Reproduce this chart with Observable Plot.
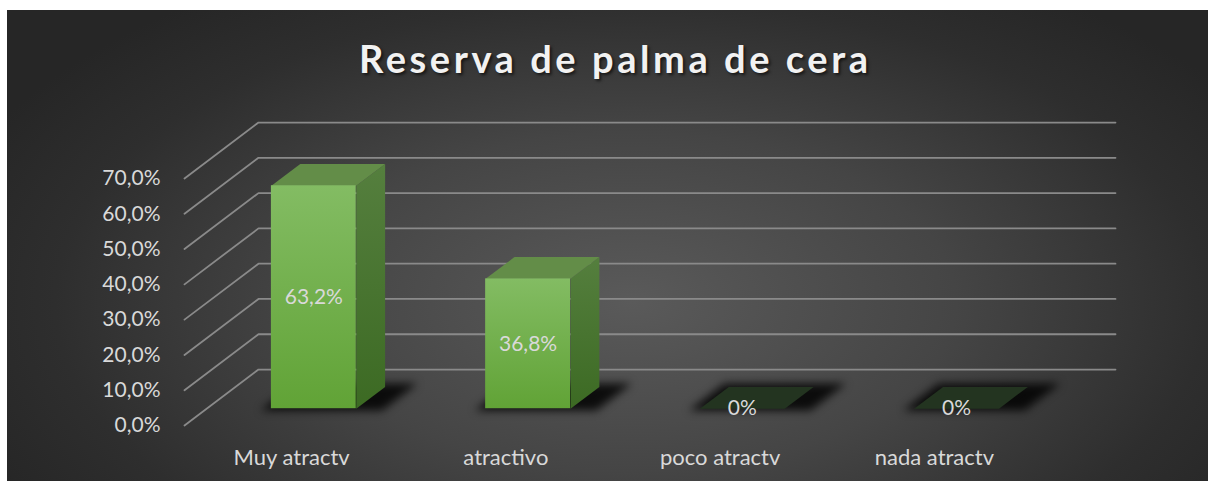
<!DOCTYPE html>
<html>
<head>
<meta charset="utf-8">
<script src="https://cdn.jsdelivr.net/npm/d3@7"></script>
<script src="https://cdn.jsdelivr.net/npm/@observablehq/plot@0.6"></script>
<style>
  html, body { margin: 0; padding: 0; background: #ffffff; width: 1209px; height: 482px; overflow: hidden; }
  #bg { position: absolute; left: 7px; top: 10px; width: 1201px; height: 471px;
        background: radial-gradient(ellipse 60% 80% at 52% 62%, #5a5a5a 0%, #454545 45%, #2e2e2e 80%, #262626 100%); }
  #title { position: absolute; left: 0; width: 1227px; top: 39px; text-align: center;
           font-family: Lato, "Open Sans", sans-serif; font-weight: bold; font-size: 38px; line-height: 1;
           color: #f2f2f2; text-shadow: 2px 2px 3px rgba(0,0,0,0.6); white-space: nowrap; }
  #title span { display: inline-block; }
  #chart { position: absolute; left: 0; top: 0; }
</style>
</head>
<body>
<div id="bg"></div>
<div id="chart"></div>
<div id="title"><span id="titleText">Reserva de palma de cera</span></div>
<script>
// ---- data ----
const categories = ["Muy atractv", "atractivo", "poco atractv", "nada atractv"];
const values = [63.2, 36.8, 0, 0];
const valueLabels = ["63,2%", "36,8%", "0%", "0%"];
const yTicks = [0, 10, 20, 30, 40, 50, 60, 70];

// ---- simple oblique 3D projection into data space ----
const KX = 0.3453, KY = 15.86;      // depth (z = 0 front .. 1 back wall) in x / y data units
const HW = 0.198;                   // half bar width (category units)
const ZF = 0.30, ZB = 0.69;         // bar front / back depth
const P = (x, v, z, id) => ({x: x + KX * z, y: v + KY * z, id});

const grid = yTicks.flatMap(t => [P(-0.5, t, 0, t), P(-0.5, t, 1, t), P(3.5, t, 1, t)]);

const bars = categories.map((c, i) => ({c, i, v: values[i], label: valueLabels[i]}));
const nonZero = bars.filter(d => d.v > 0);
const zero = bars.filter(d => d.v === 0);

const sides = nonZero.flatMap(d => [P(d.i + HW, 0, ZF, d.i), P(d.i + HW, d.v, ZF, d.i), P(d.i + HW, d.v, ZB, d.i), P(d.i + HW, 0, ZB, d.i)]);
const tops = nonZero.flatMap(d => [P(d.i - HW, d.v, ZF, d.i), P(d.i + HW, d.v, ZF, d.i), P(d.i + HW, d.v, ZB, d.i), P(d.i - HW, d.v, ZB, d.i)]);
const zeroTops = zero.flatMap(d => [P(d.i - HW, 0, ZF, d.i), P(d.i + HW, 0, ZF, d.i), P(d.i + HW, 0, ZB, d.i), P(d.i - HW, 0, ZB, d.i)]);
const shadows = bars.flatMap(d => [P(d.i - HW - 0.04, 0, ZF - 0.03, d.i), P(d.i + HW + 0.13, 0, ZF - 0.03, d.i), P(d.i + HW + 0.13, 0, ZB + 0.06, d.i), P(d.i - HW - 0.04, 0, ZB + 0.06, d.i)]);

const fmt = t => t.toFixed(1).replace(".", ",") + "%";

const plot = Plot.plot({
  width: 1209,
  height: 482,
  marginLeft: 184,
  marginRight: 93,
  marginTop: 178,
  marginBottom: 57,
  style: {background: "transparent", fontFamily: "Lato, 'Open Sans', sans-serif", fontSize: "21px", color: "#d9d9d9", overflow: "visible"},
  x: {domain: [-0.5, 3.85], axis: null},
  y: {domain: [0, 70], ticks: yTicks, tickFormat: fmt, tickSize: 0, tickPadding: 24, label: null},
  marks: [
    Plot.line(grid, {x: "x", y: "y", z: "id", stroke: "#8a8a8a", strokeWidth: 1.8}),
    Plot.line(shadows, {x: "x", y: "y", z: "id", curve: "linear-closed", fill: "#010101", fillOpacity: 0.85, stroke: "none"}),
    Plot.line(zeroTops, {x: "x", y: "y", z: "id", curve: "linear-closed", fill: "#233420", stroke: "none"}),
    Plot.line(sides, {x: "x", y: "y", z: "id", curve: "linear-closed", fill: "url(#gSide)", stroke: "none"}),
    Plot.line(tops, {x: "x", y: "y", z: "id", curve: "linear-closed", fill: "#638d48", stroke: "none"}),
    Plot.rect(nonZero, {x1: d => d.i - HW + KX * ZF, x2: d => d.i + HW + KX * ZF, y1: KY * ZF, y2: d => d.v + KY * ZF, fill: "url(#gFront)"}),
    Plot.text(bars, {x: d => d.i + KX * ZF, y: d => d.v / 2 + KY * ZF, text: "label", fill: "#d9d9d9", fontSize: 21}),
    Plot.text(bars, {x: "i", y: 0, text: "c", dy: 32, fill: "#d9d9d9", fontSize: 22})
  ]
});

plot.insertAdjacentHTML("afterbegin", `<defs>
  <linearGradient id="gFront" x1="0" y1="0" x2="0" y2="1">
    <stop offset="0" stop-color="#83bc63"/><stop offset="1" stop-color="#61a336"/>
  </linearGradient>
  <linearGradient id="gSide" x1="0" y1="0" x2="0" y2="1">
    <stop offset="0" stop-color="#557f3e"/><stop offset="1" stop-color="#3c6a23"/>
  </linearGradient>
</defs>`);
const sh = plot.querySelector('g[fill="#010101"]');
if (sh) sh.style.filter = "blur(4px)";

document.getElementById("chart").appendChild(plot);

// fit title letter-spacing to the reference width
const tt = document.getElementById("titleText");
const w0 = tt.getBoundingClientRect().width;
const n = tt.textContent.length - 1;
tt.style.letterSpacing = ((509 - w0) / n) + "px";
tt.style.marginRight = (-(509 - w0) / n) + "px";
</script>
</body>
</html>
